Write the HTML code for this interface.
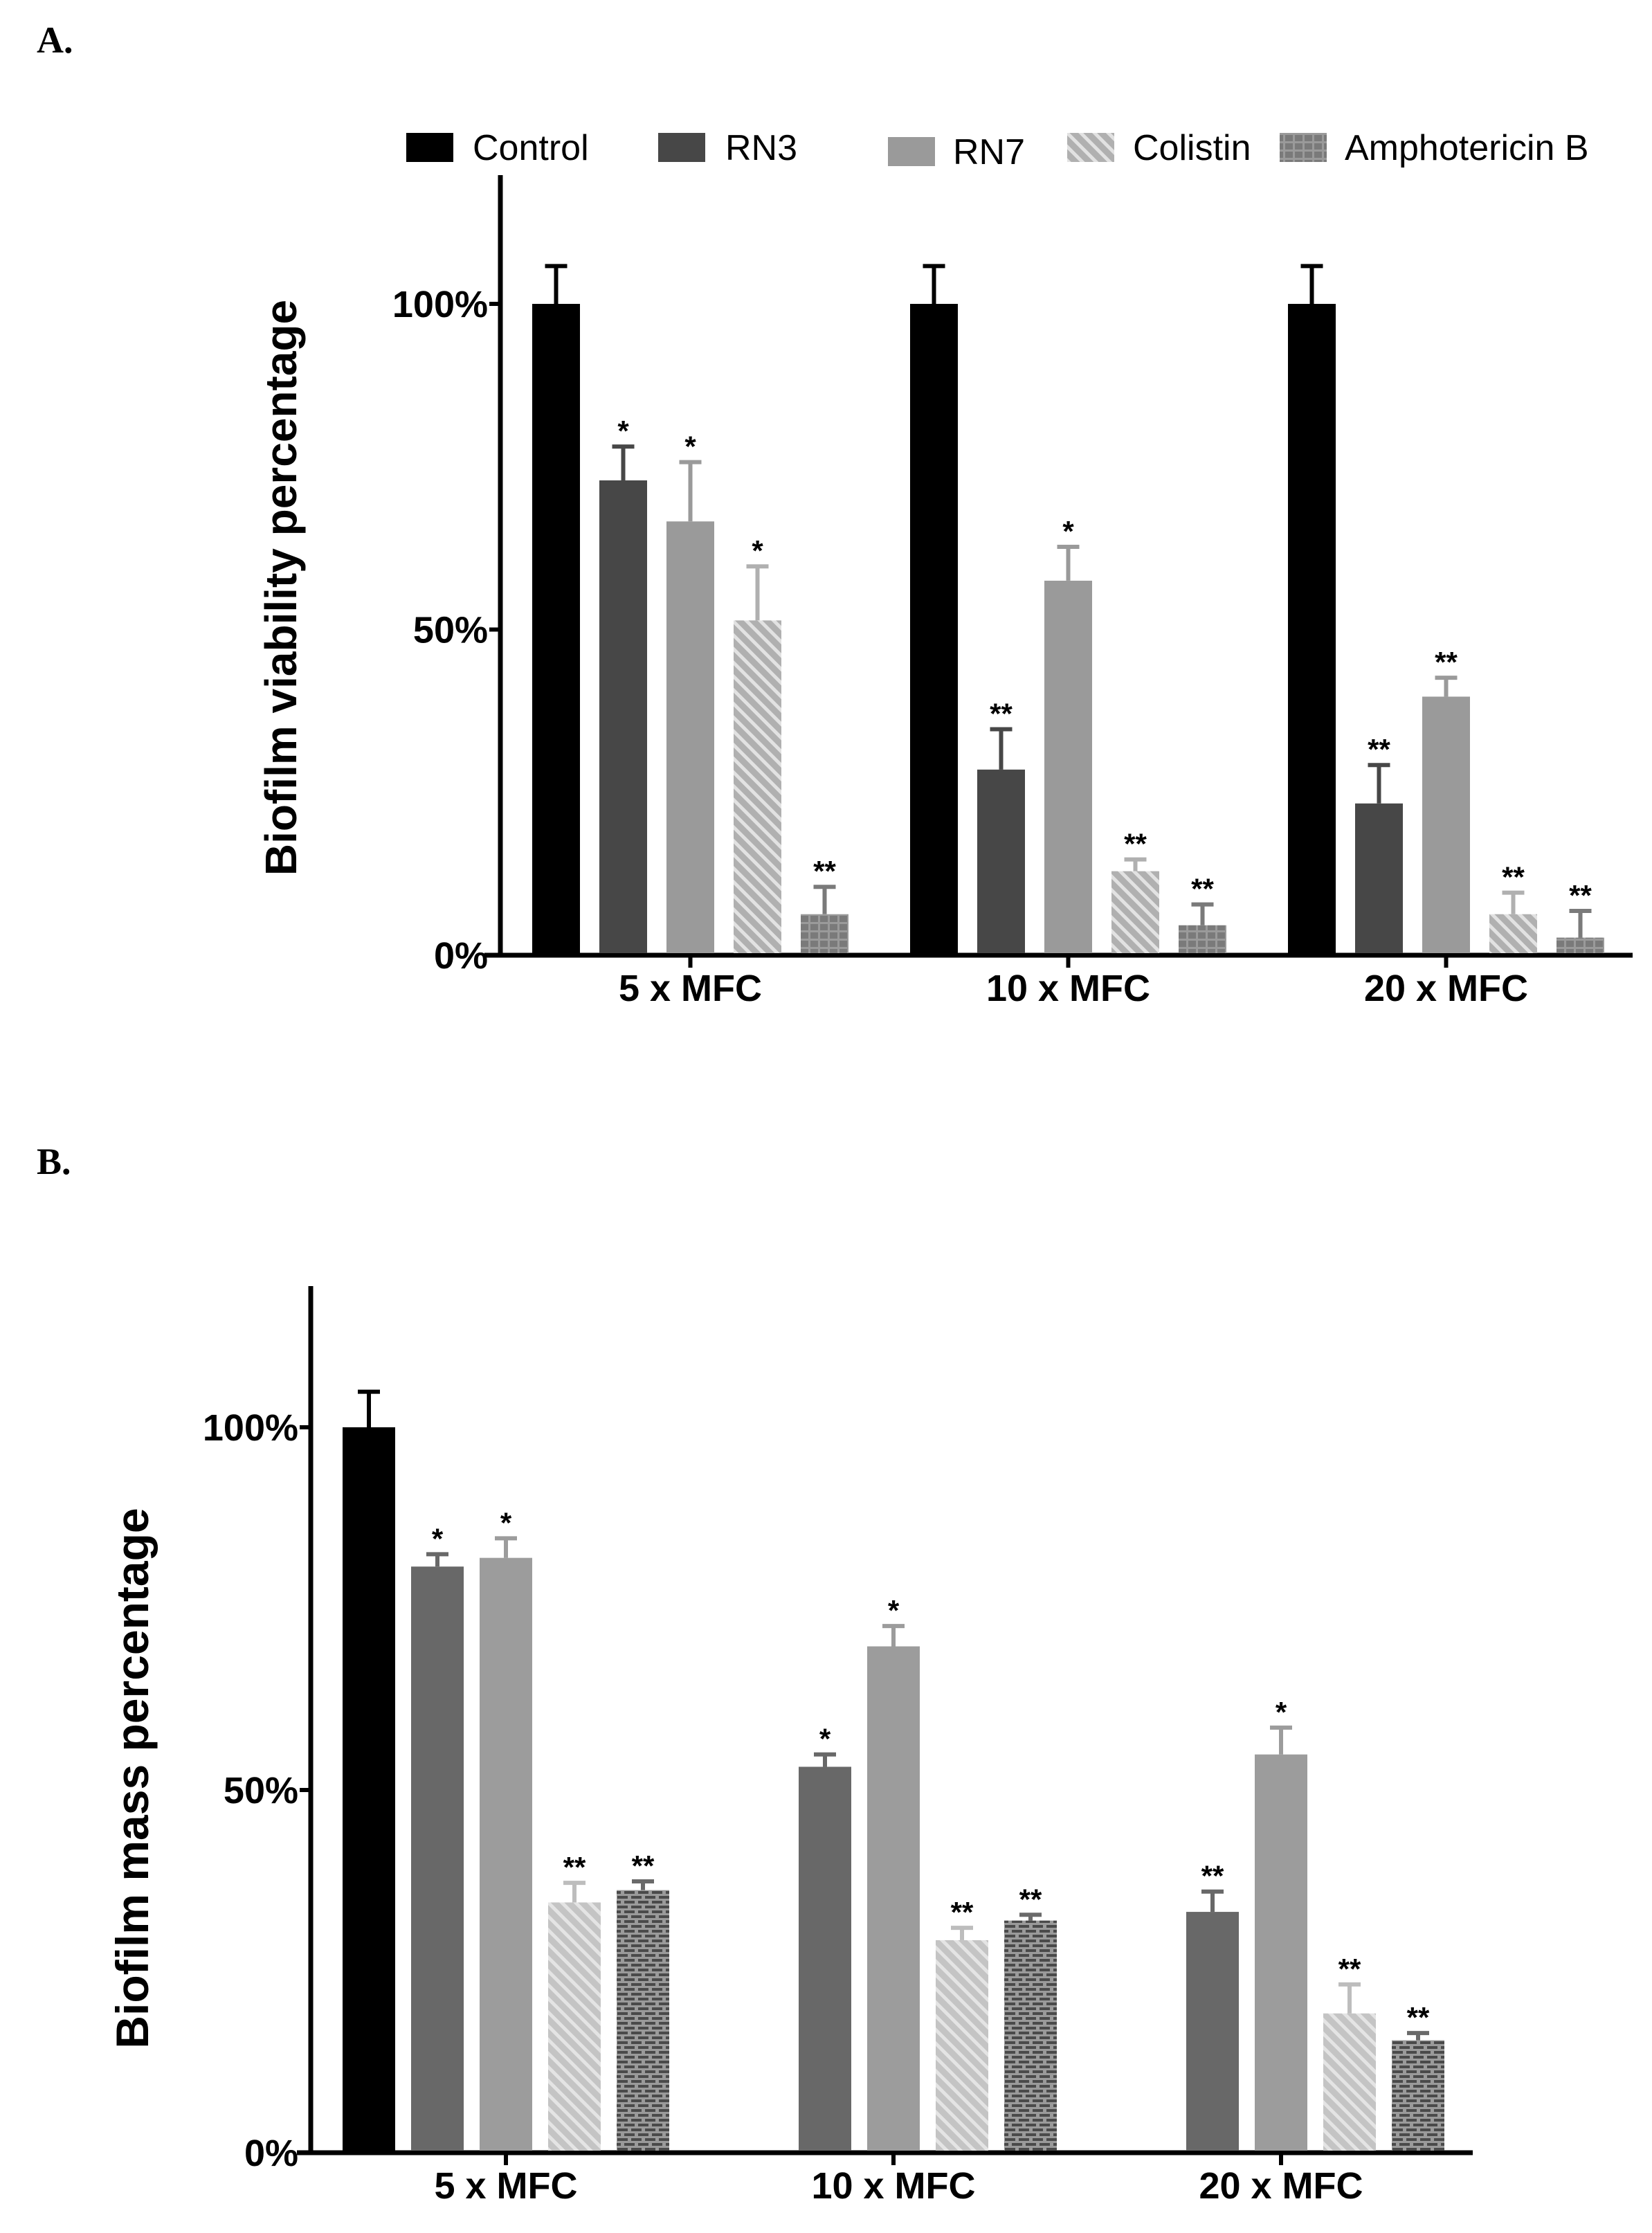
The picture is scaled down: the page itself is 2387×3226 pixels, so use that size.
<!DOCTYPE html>
<html><head><meta charset="utf-8">
<style>
html,body{margin:0;padding:0;background:#fff;}
svg{display:block;}
text{font-family:"Liberation Sans",Arial,sans-serif;}
</style></head>
<body>
<svg id="fig" width="2387" height="3226" viewBox="0 0 2387 3226" xmlns="http://www.w3.org/2000/svg">
<defs>
<pattern id="hatchA" patternUnits="userSpaceOnUse" width="14" height="14" patternTransform="rotate(-45)">
<rect width="14" height="14" fill="#b0b0b0"/><rect width="5" height="14" fill="#e2e2e2"/></pattern>
<pattern id="hatchB" patternUnits="userSpaceOnUse" width="14" height="14" patternTransform="rotate(-45)">
<rect width="14" height="14" fill="#c4c4c4"/><rect width="5" height="14" fill="#e4e4e4"/></pattern>
<pattern id="gridA" patternUnits="userSpaceOnUse" width="14" height="12">
<rect width="14" height="12" fill="#7a7a7a"/><rect x="0" y="0" width="14" height="3" fill="#9a9a9a"/><rect x="6" y="0" width="3" height="12" fill="#9a9a9a"/></pattern>
<pattern id="brickB" patternUnits="userSpaceOnUse" width="20" height="14">
<rect width="20" height="14" fill="#9a9a9a"/><rect x="2" y="2" width="15" height="4" fill="#4a4a4a"/><rect x="12" y="9" width="15" height="4" fill="#4a4a4a"/><rect x="-8" y="9" width="15" height="4" fill="#4a4a4a"/></pattern>
</defs>
<text x="53" y="76" style="font-family:'Liberation Serif',serif;font-weight:bold;font-size:54px">A.</text>
<text x="53" y="1696" style="font-family:'Liberation Serif',serif;font-weight:bold;font-size:54px">B.</text>
<g id="chartA"></g>
<g id="chartB"></g>
</svg>
<script>
// ---- Data ----
const categories = ["5 x MFC", "10 x MFC", "20 x MFC"];
const seriesNames = ["Control", "RN3", "RN7", "Colistin", "Amphotericin B"];
const yTicks = [0, 50, 100];
const yTickLabels = ["0%", "50%", "100%"];
// Panel A: biofilm viability (%), rows = series, cols = categories
const aControl = [100, 100, 100];
const aRN3 = [72.9, 28.5, 23.3];
const aRN7 = [66.6, 57.5, 39.7];
const aColistin = [51.4, 12.9, 6.3];
const aAmpho = [6.3, 4.6, 2.7];
const aControlErr = [5.8, 5.8, 5.8];
const aRN3Err = [5.2, 6.2, 5.9];
const aRN7Err = [9.1, 5.2, 2.9];
const aColistinErr = [8.3, 1.8, 3.3];
const aAmphoErr = [4.2, 3.2, 4.1];
const aStars = [["", "*", "*", "*", "**"], ["", "**", "*", "**", "**"], ["", "**", "**", "**", "**"]];
// Panel B: biofilm mass (%); control only at 5 x MFC
const bControl = [100, null, null];
const bRN3 = [80.8, 53.2, 33.2];
const bRN7 = [82.0, 69.8, 54.9];
const bColistin = [34.5, 29.3, 19.2];
const bAmpho = [36.2, 32.0, 15.5];
const bControlErr = [4.9, null, null];
const bRN3Err = [1.7, 1.7, 2.8];
const bRN7Err = [2.7, 2.8, 3.7];
const bColistinErr = [2.7, 1.7, 4.0];
const bAmphoErr = [1.2, 0.8, 1.0];
const bStars = [["", "*", "*", "**", "**"], ["", "*", "*", "**", "**"], ["", "**", "*", "**", "**"]];

const NS = "http://www.w3.org/2000/svg";
function mk(parent, tag, attrs, txt) {
  const e = document.createElementNS(NS, tag);
  for (const k in attrs) e.setAttribute(k, attrs[k]);
  if (txt !== undefined) e.textContent = txt;
  parent.appendChild(e);
  return e;
}

function drawChart(g, cfg, vals, errs, stars) {
  const yScale = v => cfg.y0 - (cfg.y0 - cfg.y100) * v / 100;
  const xBar = (ci, si) => cfg.x0 + ci * cfg.groupStep + si * cfg.barStep;
  const ya = mk(g, "line", {x1: cfg.axisX, y1: cfg.axisTop, x2: cfg.axisX, y2: cfg.y0 + 3, stroke: "#000", "stroke-width": 7});
  
  
  const xa = mk(g, "line", {x1: cfg.axisLeft, y1: cfg.y0, x2: cfg.axisRight, y2: cfg.y0, stroke: "#000", "stroke-width": 7});
  
  
  yTicks.forEach((t, i) => {
    const tk = mk(g, "line", {x1: cfg.axisX - 16, y1: yScale(t), x2: cfg.axisX, y2: yScale(t), stroke: "#000", "stroke-width": 6});
    
    
    const tl = mk(g, "text", {x: cfg.axisX - 18, y: yScale(t) + 19, "text-anchor": "end", "font-size": 54, "font-weight": "bold"}, yTickLabels[i]);
    
    
  });
  const yt = mk(g, "text", {x: 0, y: 0, "text-anchor": "middle", "font-size": cfg.titleSize, "font-weight": "bold", transform: `translate(${cfg.titleX},${cfg.titleY}) rotate(-90)`}, cfg.title);
  
  
  categories.forEach((c, ci) => {
    const cx = cfg.x0 + ci * cfg.groupStep + (4 * cfg.barStep + cfg.barW) / 2;
    const tk = mk(g, "line", {x1: cx, y1: cfg.y0, x2: cx, y2: cfg.y0 + 18, stroke: "#000", "stroke-width": 6});
    
    
    const cl = mk(g, "text", {x: cx, y: cfg.y0 + 66, "text-anchor": "middle", "font-size": 54, "font-weight": "bold"}, c);
    
    
  });
  vals.forEach((series, si) => {
    series.forEach((v, ci) => {
      if (v === null) return;
      const x = xBar(ci, si), top = yScale(v);
      const e = errs[si][ci];
      const cx = x + cfg.barW / 2, ey = yScale(v + e);
      const col = cfg.errColors[si];
      const el = mk(g, "line", {x1: cx, y1: top, x2: cx, y2: ey, stroke: col, "stroke-width": 6});
      
      
      const ec = mk(g, "line", {x1: cx - 16, y1: ey, x2: cx + 16, y2: ey, stroke: col, "stroke-width": 6});
      
      
      const r = mk(g, "rect", {x: x, y: top, width: cfg.barW, height: cfg.y0 - top - 3, fill: cfg.fills[si]});
      
      
      const s = stars[ci][si];
      if (s) {
        const st = mk(g, "text", {x: cx, y: ey - 8, "text-anchor": "middle", "font-size": 42, "font-weight": "bold"}, s);
        
        
      }
    });
  });
}

// Panel A
const gA = document.getElementById("chartA");
drawChart(gA, {
  y0: 1380, y100: 439, axisX: 723, axisTop: 253, axisLeft: 700, axisRight: 2359,
  x0: 769, groupStep: 546, barStep: 97, barW: 69,
  titleX: 428, titleY: 849, titleSize: 64, title: "Biofilm viability percentage",
  fills: ["#000", "#474747", "#9a9a9a", "url(#hatchA)", "url(#gridA)"],
  errColors: ["#000", "#474747", "#9a9a9a", "#b0b0b0", "#7a7a7a"]
}, [aControl, aRN3, aRN7, aColistin, aAmpho], [aControlErr, aRN3Err, aRN7Err, aColistinErr, aAmphoErr], aStars);

// Legend (panel A)
const legFills = ["#000", "#474747", "#9a9a9a", "url(#hatchA)", "url(#gridA)"];
const legSwX = [587, 951, 1283, 1542, 1849];
const legTxX = [683, 1048, 1377, 1637, 1943];
const legDY = [0, 0, 6, 0, 0];
seriesNames.forEach((n, i) => {
  const lg = mk(gA, "g", {});
  
  
  mk(lg, "rect", {x: legSwX[i], y: 192 + legDY[i], width: 68, height: 42, fill: legFills[i]});
  mk(lg, "text", {x: legTxX[i], y: 231 + legDY[i], "font-size": 52}, n);
});

// Panel B
const gB = document.getElementById("chartB");
drawChart(gB, {
  y0: 3110, y100: 2062, axisX: 449, axisTop: 1858, axisLeft: 429, axisRight: 2128,
  x0: 495, groupStep: 560, barStep: 99, barW: 76,
  titleX: 214, titleY: 2569, titleSize: 66, title: "Biofilm mass percentage",
  fills: ["#000", "#686868", "#9c9c9c", "url(#hatchB)", "url(#brickB)"],
  errColors: ["#000", "#686868", "#9c9c9c", "#bdbdbd", "#6a6a6a"]
}, [bControl, bRN3, bRN7, bColistin, bAmpho], [bControlErr, bRN3Err, bRN7Err, bColistinErr, bAmphoErr], bStars);
</script>
</body></html>
